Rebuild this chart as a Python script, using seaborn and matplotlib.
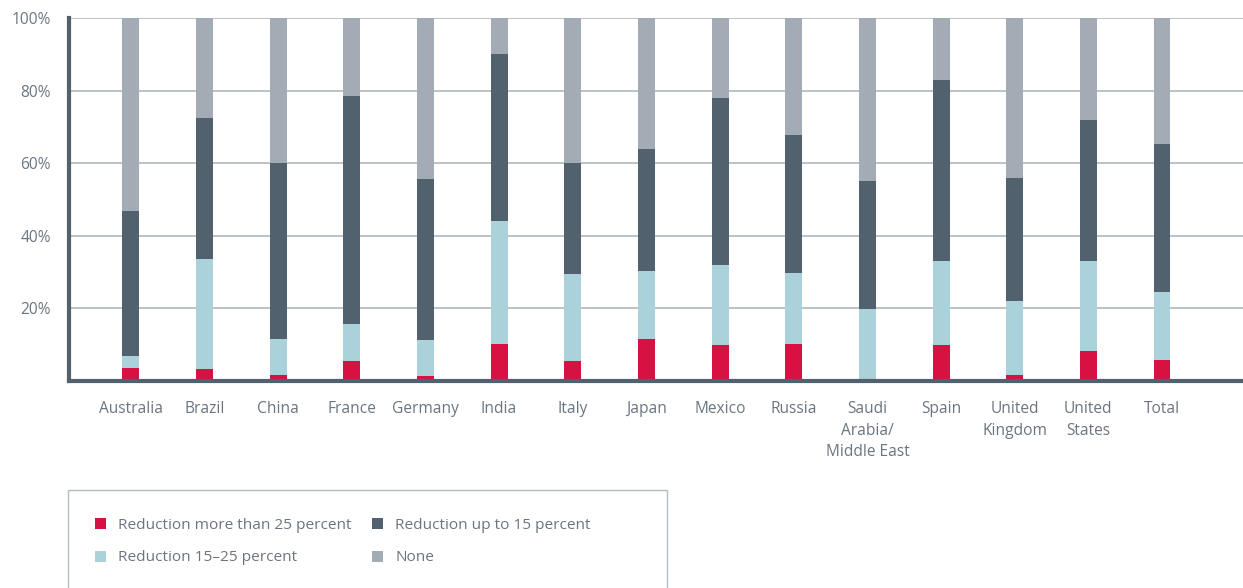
import matplotlib
matplotlib.use("Agg")
import matplotlib.pyplot as plt
from matplotlib.patches import Patch, Rectangle
import numpy as np
import pandas as pd
import seaborn as sns

# Share of respondents per market (percent)
countries = ["Australia", "Brazil", "China", "France", "Germany", "India", "Italy",
             "Japan", "Mexico", "Russia", "Saudi\nArabia/\nMiddle East", "Spain",
             "United\nKingdom", "United\nStates", "Total"]
reduction_over_25 = [3.5, 3.3, 1.6, 5.5, 1.5, 10.2, 5.5, 11.6, 9.9, 10.2, 0.0, 9.9, 1.6, 8.3, 5.8]
reduction_15_25 = [3.4, 30.3, 10.0, 10.2, 9.8, 33.9, 24.0, 18.7, 22.1, 19.6, 19.8, 23.2, 20.4, 24.8, 18.7]
reduction_up_to_15 = [39.9, 38.9, 48.4, 62.8, 44.3, 46.0, 30.5, 33.6, 46.0, 38.0, 35.3, 49.8, 33.9, 38.8, 40.8]
none_share = [round(100 - a - b - c, 1) for a, b, c in
              zip(reduction_over_25, reduction_15_25, reduction_up_to_15)]

series_names = ["Reduction more than 25 percent", "Reduction 15\u201325 percent",
                "Reduction up to 15 percent", "None"]
colors = {
    "Reduction more than 25 percent": "#D51241",
    "Reduction 15\u201325 percent": "#ABD1DA",
    "Reduction up to 15 percent": "#52616E",
    "None": "#A3ACB4",
}

df = pd.DataFrame({
    "country": countries,
    series_names[0]: reduction_over_25,
    series_names[1]: reduction_15_25,
    series_names[2]: reduction_up_to_15,
    series_names[3]: none_share,
})

# cumulative tops for stacking (bottom -> top order)
stack = df[series_names].cumsum(axis=1)

sns.set_theme(style="white")
plt.rcParams["font.family"] = ["Open Sans", "DejaVu Sans"]

W, H = 1243, 588
fig = plt.figure(figsize=(W / 100, H / 100), dpi=100)
ax = fig.add_axes([69 / W, (H - 381) / H, (W - 69) / W, 363 / H])

text_color = "#6B7580"
grid_color = "#B5BDC4"
axis_color = "#52616E"

# draw tallest cumulative first so lower segments sit on top
for name in reversed(series_names):
    sns.barplot(x=df["country"], y=stack[name], color=colors[name], width=0.23,
                saturation=1, ax=ax, zorder=3, linewidth=0)

ax.set_ylim(0, 100)
ax.set_xlim(-0.84, 15.1)
ax.set_yticks([20, 40, 60, 80, 100])
ax.set_yticklabels(["20%", "40%", "60%", "80%", "100%"])
ax.yaxis.grid(True, color=grid_color, linewidth=1.3, zorder=0)
ax.set_axisbelow(True)
ax.set_xlabel("")
ax.set_ylabel("")

for s in ["top", "right"]:
    ax.spines[s].set_visible(False)
for s in ["left", "bottom"]:
    ax.spines[s].set_color(axis_color)
    ax.spines[s].set_linewidth(3.0)
    ax.spines[s].set_zorder(4)

ax.tick_params(axis="both", length=0, labelsize=11.2, labelcolor=text_color)
ax.tick_params(axis="x", pad=14.5)
ax.tick_params(axis="y", pad=13)
for lbl in ax.get_xticklabels():
    lbl.set_linespacing(1.45)

# legend box
fig.patches.append(Rectangle((68 / W, -0.1), (667 - 68) / W, 0.1 + (H - 490) / H,
                             transform=fig.transFigure, fill=False,
                             edgecolor=grid_color, linewidth=1.0))
handles = [Patch(facecolor=colors[n], edgecolor="none") for n in series_names]
leg = fig.legend(handles, series_names, loc="upper left",
                 bbox_to_anchor=(87 / W, (H - 510) / H), ncol=2, frameon=False,
                 fontsize=11.1, labelcolor=text_color, handlelength=0.72,
                 handleheight=0.72, handletextpad=0.8, columnspacing=1.3,
                 labelspacing=1.15, borderpad=0)

fig.savefig("out.png", dpi=100)
